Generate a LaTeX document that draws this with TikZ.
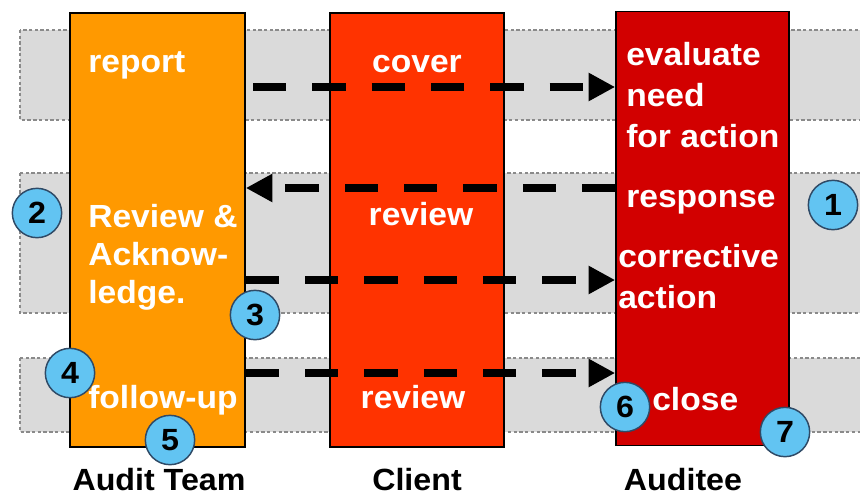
\documentclass[tikz,border=0pt]{standalone}
\usepackage{fontspec}
\setmainfont{Liberation Sans}[FakeStretch=1.05]
\usetikzlibrary{arrows.meta}
\definecolor{teamc}{HTML}{FF9900}
\definecolor{clientc}{HTML}{FF3300}
\definecolor{auditeec}{HTML}{D20000}
\definecolor{bandc}{HTML}{DADADA}
\definecolor{bandline}{HTML}{8A8A8A}
\definecolor{numc}{HTML}{62C4F2}
\definecolor{numline}{HTML}{2F4A66}
\tikzset{
  band/.style={fill=bandc, draw=bandline, line width=1.1pt, dash pattern=on 2.5pt off 1.8pt},
  lane/.style={draw=black, line width=1.2pt, inner sep=0pt, minimum height=325.5pt},
  txt/.style={text=white, font=\fontsize{24}{29.5}\selectfont\bfseries, inner sep=0pt, align=left},
  lbl/.style={text=black, font=\fontsize{23}{28}\selectfont\bfseries, inner sep=0pt},
  flow/.style={draw=black, line width=6pt, dash pattern=on 25pt off 19.5pt, -{Triangle[length=20pt,width=20pt]}},
  num/.style={circle, fill=numc, draw=numline, line width=1.1pt, minimum size=37pt, inner sep=0pt, text=black, font=\fontsize{23}{23}\selectfont\bfseries},
}
\begin{document}
\begin{tikzpicture}[x=0.75pt,y=-0.75pt]
\clip (0,0) rectangle (860,496);
\fill[white] (0,0) rectangle (860,496);
% bands
\draw[band] (20,30) rectangle (885,120);
\draw[band] (20,173) rectangle (885,313);
\draw[band] (20,358) rectangle (885,432);
% lanes
\node[lane, fill=teamc, minimum width=131.25pt] (team) at (157.5,230) {};
\node[lane, fill=clientc, minimum width=130.5pt] (client) at (417,230) {};
\node[lane, fill=auditeec, minimum width=129.75pt] (auditee) at (702.5,228.5) {};
% texts
\node[txt, anchor=base west] (t1) at (88,72) {report};
\node[txt, anchor=base west] (t2) at (88,227) {Review \&};
\node[txt, anchor=base west] (t3) at (88,265) {Acknow-};
\node[txt, anchor=base west] (t4) at (88,303) {ledge.};
\node[txt, anchor=base west] (t5) at (88,408) {follow-up};
\node[txt, anchor=base] (c1) at (417,72) {cover};
\node[txt, anchor=base] (c2) at (421,225) {review};
\node[txt, anchor=base] (c3) at (413,408) {review};
\node[txt, anchor=base west] (a1) at (626,65) {evaluate};
\node[txt, anchor=base west] (a2) at (626,106) {need};
\node[txt, anchor=base west] (a3) at (626,147) {for action};
\node[txt, anchor=base west] (a4) at (626,207) {response};
\node[txt, anchor=base west] (a5) at (618,267) {corrective};
\node[txt, anchor=base west] (a6) at (618,308) {action};
\node[txt, anchor=base west] (a7) at (652,410) {close};
% bottom labels
\node[lbl, anchor=base] (l1) at (159,490) {Audit Team};
\node[lbl, anchor=base] (l2) at (417,490) {Client};
\node[lbl, anchor=base] (l3) at (683,490) {Auditee};
% arrows
\coordinate (s1) at (253,87);
\coordinate (s2) at (616,188);
\coordinate (s3) at (245,280);
\coordinate (s4) at (245,373);
\draw[flow] (s1) -- (auditee.west |- s1);
\draw[flow] (auditee.west |- s2) -- (team.east |- s2);
\draw[flow] (team.east |- s3) -- (auditee.west |- s3);
\draw[flow] (team.east |- s4) -- (auditee.west |- s4);
% numbers
\node[num] (n1) at (833,205) {1};
\node[num] (n2) at (37,213) {2};
\node[num] (n3) at (255,315) {3};
\node[num] (n4) at (70,373) {4};
\node[num] (n5) at (170,440) {5};
\node[num] (n6) at (625,407) {6};
\node[num] (n7) at (785,432) {7};
\end{tikzpicture}
\end{document}
